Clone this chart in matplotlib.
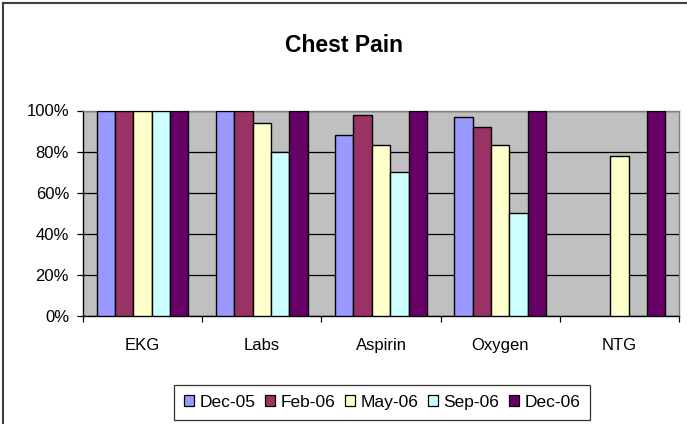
import matplotlib
matplotlib.use("Agg")
import matplotlib.pyplot as plt
import numpy as np
from matplotlib.patches import Patch
from matplotlib.lines import Line2D
from matplotlib.ticker import FixedLocator, PercentFormatter

plt.rcParams['font.family'] = ['Liberation Sans', 'DejaVu Sans']

categories = ["EKG", "Labs", "Aspirin", "Oxygen", "NTG"]
series_names = ["Dec-05", "Feb-06", "May-06", "Sep-06", "Dec-06"]
dec05 = [1.00, 1.00, 0.88, 0.97, np.nan]
feb06 = [1.00, 1.00, 0.98, 0.92, np.nan]
may06 = [1.00, 0.94, 0.83, 0.83, 0.78]
sep06 = [1.00, 0.80, 0.70, 0.50, np.nan]
dec06 = [1.00, 1.00, 1.00, 1.00, 1.00]
yticks = [0, 0.2, 0.4, 0.6, 0.8, 1.0]

colors = ["#9999FF", "#993366", "#FFFFCC", "#CCFFFF", "#660066"]
series = [dec05, feb06, may06, sep06, dec06]

W, H = 687, 424
fig = plt.figure(figsize=(W / 100, H / 100), dpi=100)
fig.patch.set_facecolor("white")

left, right, top, bottom = 83, 679, 110.5, 315.7
ax = fig.add_axes([left / W, 1 - bottom / H, (right - left) / W, (bottom - top) / H])
ax.set_facecolor("#C0C0C0")

n = len(series)
gap = 1.5
bw = 1.0 / (n + gap)
x = np.arange(len(categories))
for i, (vals, c) in enumerate(zip(series, colors)):
    offs = (i - (n - 1) / 2) * bw
    ax.bar(x + offs, vals, width=bw, color=c, edgecolor="black", linewidth=1.0,
           zorder=3, label=series_names[i])

ax.set_xlim(-0.5, len(categories) - 0.5)
ax.set_ylim(0, 1.0)
ax.set_yticks(yticks)
ax.yaxis.set_major_formatter(PercentFormatter(1.0, decimals=0))
ax.yaxis.grid(True, color="black", linewidth=0.9, zorder=1)
ax.set_axisbelow(True)

ax.set_xticks(x)
ax.set_xticklabels(categories)
ax.xaxis.set_minor_locator(FixedLocator(np.arange(-0.5, len(categories), 1.0)))
ax.tick_params(axis="x", which="major", length=0, pad=16, labelsize=12)
ax.tick_params(axis="x", which="minor", length=4, width=0.9, direction="out", color="black")
ax.tick_params(axis="y", length=4, width=0.9, direction="out", pad=6, labelsize=12)

for s in ["left", "bottom"]:
    ax.spines[s].set_color("black")
    ax.spines[s].set_linewidth(1.0)
for s in ["top", "right"]:
    ax.spines[s].set_color("#808080")
    ax.spines[s].set_linewidth(1.0)

fig.text(344 / W, 1 - 45 / H, "Chest Pain", ha="center", va="center",
         fontsize=16.5, fontweight="bold")

handles = [Patch(facecolor=c, edgecolor="black", linewidth=0.9) for c in colors]
leg = fig.legend(handles, series_names, loc="center", ncol=5,
                 bbox_to_anchor=(382 / W, 1 - 402.5 / H), fontsize=12.5,
                 frameon=True, fancybox=False, edgecolor="black",
                 handlelength=0.6, handleheight=0.6, handletextpad=0.3,
                 columnspacing=0.55, borderpad=0.55, borderaxespad=0)
leg.get_frame().set_linewidth(0.9)

# outer chart border (top & left visible only)
fig.add_artist(Line2D([3 / W, 1.0], [1 - 2.5 / H, 1 - 2.5 / H], transform=fig.transFigure,
                      color="#404040", linewidth=1.5))
fig.add_artist(Line2D([3 / W, 3 / W], [0.0, 1 - 2.5 / H], transform=fig.transFigure,
                      color="#404040", linewidth=1.5))

fig.savefig("out.png", dpi=100)
